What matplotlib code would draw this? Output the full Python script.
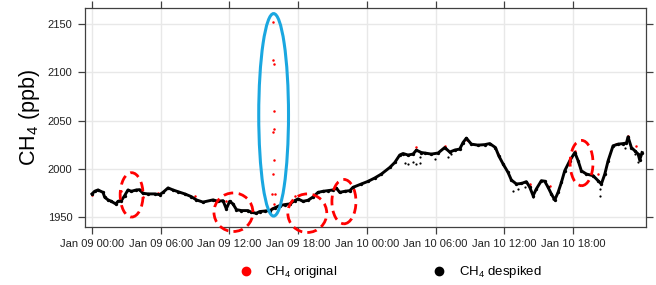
import matplotlib
matplotlib.use('Agg')
import matplotlib.pyplot as plt
from matplotlib.patches import Ellipse
from matplotlib.lines import Line2D

plt.rcParams['font.family'] = ['Liberation Sans', 'DejaVu Sans']
plt.rcParams['mathtext.fontset'] = 'custom'
plt.rcParams['mathtext.rm'] = 'Liberation Sans'
plt.rcParams['mathtext.it'] = 'Liberation Sans:italic'

# despiked CH4 trace, hours since Jan 09 00:00
despiked_hours = [0.0, 0.23, 0.52, 0.96, 1.11, 1.40, 1.69, 2.07, 2.27, 2.56, 2.85, 3.14, 3.43,
                  3.87, 4.16, 4.45, 4.89, 5.48, 5.91, 6.20, 6.64, 7.07, 7.51, 8.10, 8.67, 9.11,
                  9.69, 10.57, 11.0, 11.44, 11.73, 12.02, 12.31, 12.61, 13.04, 13.62, 13.91,
                  14.35, 14.64, 15.08, 15.52, 15.95, 16.39, 16.83, 17.26, 17.70, 17.99, 18.43,
                  18.86, 19.30, 19.74, 20.17, 20.61, 21.05, 21.34, 21.63, 22.07, 22.51, 22.79,
                  23.52, 24.10, 24.69, 25.27, 26.0, 26.44, 26.87, 27.16, 27.6, 28.03, 28.33,
                  28.76, 29.06, 29.63, 30.22, 30.8, 31.24, 31.68, 32.11, 32.40, 32.69, 33.13,
                  33.71, 34.30, 34.73, 35.23, 35.52, 35.90, 36.33, 36.62, 37.06, 37.5, 37.93,
                  38.23, 38.52, 38.80, 39.24, 39.53, 39.83, 40.11, 40.41, 40.70, 40.99, 41.28,
                  41.72, 42.16, 42.45, 42.73, 43.17, 43.76, 44.19, 44.48, 44.78, 45.07, 45.50,
                  45.94, 46.38, 46.67, 46.81, 47.10, 47.40, 47.69, 47.83, 48.03]
despiked_ppb = [1974.0, 1976.7, 1978.1, 1975.6, 1970.5, 1967.8, 1966.3, 1963.6, 1966.3, 1967.0,
                1972.2, 1978.1, 1976.7, 1978.1, 1978.4, 1974.6, 1974.0, 1974.0, 1973.2, 1975.6,
                1980.2, 1978.1, 1976.3, 1974.0, 1971.2, 1967.8, 1965.5, 1967.8, 1966.3, 1967.0,
                1958.5, 1966.3, 1963.6, 1957.7, 1956.7, 1956.7, 1955.0, 1953.9, 1955.7, 1956.2,
                1956.7, 1959.5, 1961.9, 1962.9, 1963.6, 1967.0, 1968.8, 1966.3, 1967.4, 1970.8,
                1975.6, 1976.7, 1977.4, 1978.1, 1980.0, 1975.6, 1976.7, 1977.4, 1980.8, 1984.3,
                1987.0, 1990.5, 1994.6, 2001.4, 2006.6, 2014.3, 2015.9, 2014.3, 2015.3, 2019.4,
                2016.9, 2016.4, 2015.3, 2016.4, 2022.1, 2017.4, 2019.5, 2020.5, 2027.3, 2031.8,
                2025.6, 2024.6, 2025.1, 2026.2, 2022.1, 2013.5, 2005.0, 1996.3, 1988.4, 1984.3,
                1984.8, 1986.7, 1980.8, 1972.2, 1979.1, 1987.7, 1987.2, 1980.8, 1974.0, 1967.8,
                1975.6, 1986.0, 1998.0, 2008.4, 2016.9, 2008.4, 1998.0, 1994.6, 1992.9, 1987.7,
                1984.3, 1994.6, 2008.4, 2023.9, 2025.6, 2026.2, 2026.8, 2033.2, 2022.1, 2018.7,
                2015.3, 2009.1, 2016.9]

# scattered despiked points off the main trace
scatter_hours = [27.31, 27.6, 28.03, 28.33, 28.62, 28.62, 29.93, 31.09, 31.38, 36.77, 37.2,
                 37.79, 38.52, 40.26, 44.34, 44.34, 46.52, 47.69, 47.4]
scatter_ppb = [2005.7, 2005.0, 2006.6, 2005.0, 2011.8, 2005.7, 2010.0, 2011.8, 2015.0, 1977.5,
               1979.0, 1980.8, 1970.4, 1968.8, 1972.2, 1979.0, 2022.0, 2006.6, 2015.0]

# original points removed by despiking
orig_hours = [15.80, 15.84, 15.86, 15.86, 15.85, 15.80, 15.85, 15.83, 15.70, 15.95, 15.88, 15.76,
              0.0, 2.56, 4.45, 5.76, 8.97, 11.73, 12.02, 17.7, 28.33, 30.8, 32.78, 35.46,
              38.23, 38.23, 39.97, 42.16, 44.19, 45.79, 46.81, 47.54]
orig_ppb = [2152.8, 2112.8, 2108.4, 2059.9, 2041.5, 2037.7, 2009.2, 1994.6, 1973.7, 1973.7,
            1963.9, 1959.7,
            1973.3, 1976.6, 1970.4, 1974.6, 1972.2, 1966.3, 1965.2, 1972.2, 2023.0, 2024.0,
            2030.0, 2015.0, 1982.5, 1984.0, 1982.5, 2019.0, 1994.6, 2025.6, 2034.0, 2024.0]

tick_hours = [0, 6, 12, 18, 24, 30, 36, 42]
tick_labels = ['Jan 09 00:00', 'Jan 09 06:00', 'Jan 09 12:00', 'Jan 09 18:00',
               'Jan 10 00:00', 'Jan 10 06:00', 'Jan 10 12:00', 'Jan 10 18:00']
y_ticks = [1950, 2000, 2050, 2100, 2150]

# highlighted regions: (center hour, center ppb, width h, height ppb)
spike_box = (15.86, 2056, 2.6, 210)
small_boxes = [(3.46, 1973, 2.0, 46), (12.35, 1955, 3.4, 40), (18.8, 1954, 3.4, 40),
               (22.0, 1966, 2.1, 46), (42.75, 2006, 2.0, 47)]

fig = plt.figure(figsize=(6.56, 2.85), dpi=100)
ax = fig.add_axes([0.1296, 0.2046, 0.8552, 0.7666])

ax.plot(orig_hours, orig_ppb, 'o', color='red', ms=1.8, mec='none', zorder=2)
ax.plot(despiked_hours, despiked_ppb, '-', color='black', lw=2.1, zorder=3)
ax.plot(despiked_hours, despiked_ppb, 'o', color='black', ms=2.4, mec='none', zorder=3)
ax.plot(scatter_hours, scatter_ppb, 'o', color='black', ms=1.6, mec='none', zorder=3)

for cx, cy, w, h in small_boxes:
    ax.add_patch(Ellipse((cx, cy), w, h, fill=False, ec='red', lw=2.0,
                         linestyle=(0, (3.5, 2)), clip_on=False, zorder=4))
cx, cy, w, h = spike_box
ax.add_patch(Ellipse((cx, cy), w, h, fill=False, ec='#1AA7E0', lw=2.2,
                     clip_on=False, zorder=4))

ax.set_xlim(-0.61, 48.38)
ax.set_ylim(1940, 2166.6)
ax.set_xticks(tick_hours)
ax.set_xticklabels(tick_labels)
ax.set_yticks(y_ticks)
ax.grid(True, color='#e8e8e8', lw=1)
ax.set_axisbelow(True)
ax.tick_params(direction='out', length=5, width=0.9, color='#404040', labelsize=8,
               top=True, right=True, labelcolor='#222222', pad=4)
for s in ax.spines.values():
    s.set_color('#404040')
    s.set_linewidth(0.9)
ax.set_ylabel('CH$_4$ (ppb)', fontsize=15.5, labelpad=4)

handles = [Line2D([], [], ls='none', marker='o', color='red', ms=6),
           Line2D([], [], ls='none', marker='o', color='black', ms=6)]
fig.legend(handles, ['CH$_4$ original', 'CH$_4$ despiked'], loc='center',
           bbox_to_anchor=(0.595, 0.045), ncol=2, frameon=False, fontsize=9.5,
           handlelength=1, handletextpad=1.0, columnspacing=7.2)

fig.savefig('out.png', dpi=100)
